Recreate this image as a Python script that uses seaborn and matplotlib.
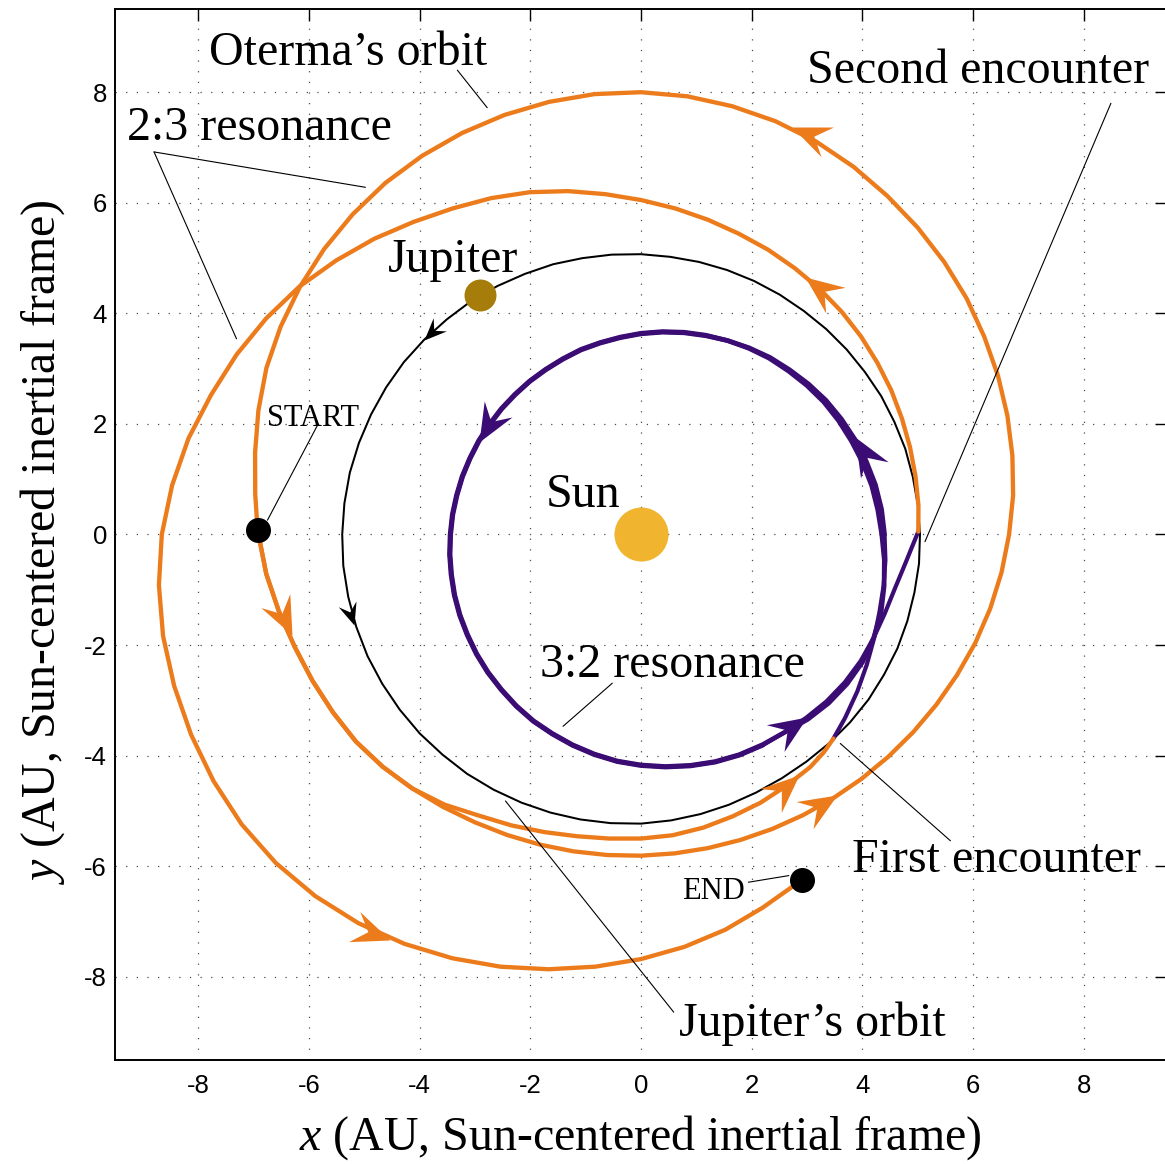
import numpy as np
import matplotlib
matplotlib.use("Agg")
import matplotlib.pyplot as plt
from matplotlib.path import Path
from matplotlib.markers import MarkerStyle
import seaborn as sns

# ---------------- data ----------------
# Curves are stored in Sun-centred polar form: angle (deg) and distance (AU)

# Oterma, pass 1: START -> lower bottom arc -> big outer loop -> back to START
orange1_phi = [179.3, 186, 192, 198, 204, 210, 216, 222, 228, 234, 240, 246, 252, 258, 264, 270,
               276, 282, 288, 294, 300, 306, 312, 318, 324, 330, 336, 342, 348, 354, 360, 366,
               372, 378, 384, 390, 396, 402, 408, 414, 420, 426, 432, 438, 444, 450, 456, 462,
               468, 474, 480, 486, 492, 498, 504, 510, 516, 522, 528, 534, 539.3]
orange1_r = [6.93, 6.81, 6.69, 6.58, 6.50, 6.43, 6.37, 6.28, 6.18, 6.09, 6.01, 5.95, 5.90, 5.86,
             5.83, 5.81, 5.80, 5.80, 5.81, 5.83, 5.86, 5.90, 5.95, 6.01, 6.08, 6.16, 6.25, 6.35,
             6.45, 6.55, 6.65, 6.76, 6.86, 6.96, 7.06, 7.16, 7.27, 7.37, 7.47, 7.57, 7.68, 7.78,
             7.86, 7.92, 7.97, 8.00, 8.01, 8.00, 7.98, 7.95, 7.91, 7.86, 7.79, 7.71, 7.62, 7.52,
             7.41, 7.27, 7.13, 7.01, 6.93]
# Oterma, pass 2: START -> upper bottom arc -> first encounter
orange2_phi = [179.3, 186, 192, 198, 204, 210, 216, 222, 228, 234, 240, 246, 252, 258, 264, 270,
               276, 282, 288, 294, 300, 306, 310, 313.3]
orange2_r = [6.93, 6.81, 6.69, 6.58, 6.50, 6.43, 6.37, 6.28, 6.18, 6.04, 5.87, 5.76, 5.66, 5.58,
             5.53, 5.50, 5.47, 5.42, 5.36, 5.31, 5.25, 5.20, 5.14, 5.07]
# Oterma, pass 3: second encounter -> END
orange3_phi = [0.6, 6, 12, 18, 24, 30, 36, 42, 48, 54, 60, 66, 72, 78, 84, 90, 96, 102, 108, 114,
               120, 126, 132, 138, 144, 150, 156, 162, 168, 174, 180, 186, 192, 198, 204, 210,
               216, 222, 228, 234, 240, 246, 252, 258, 264, 270, 276, 282, 288, 295]
orange3_r = [5.01, 5.04, 5.07, 5.11, 5.16, 5.22, 5.28, 5.35, 5.42, 5.49, 5.56, 5.64, 5.72, 5.82,
             5.93, 6.05, 6.19, 6.35, 6.51, 6.66, 6.81, 6.99, 7.20, 7.41, 7.63, 7.82, 8.00, 8.17,
             8.36, 8.52, 8.66, 8.76, 8.83, 8.87, 8.90, 8.92, 8.92, 8.88, 8.80, 8.69, 8.55, 8.39,
             8.22, 8.04, 7.86, 7.68, 7.50, 7.31, 7.10, 6.89]

# 3:2 resonance (purple)
purple_leg1_phi = [313.3, 318, 324, 330, 336, 342, 348, 354, 360]
purple_leg1_r = [5.07, 4.96, 4.83, 4.71, 4.61, 4.53, 4.48, 4.44, 4.40]
purple_loopA_phi = [0, 6, 12, 18, 24, 30, 36, 42, 48, 54, 60, 66, 72, 78, 84, 90, 96, 102, 108,
                    114, 120, 126, 132, 138, 144, 150, 156, 162, 168, 174, 180, 186, 192, 198,
                    204, 210, 216, 222, 228, 234, 240, 246, 252, 258, 264, 270, 276, 282, 288,
                    294, 300, 306, 312, 318, 324, 330, 336, 342, 348, 354, 360]
purple_loopA_r = [4.40, 4.37, 4.33, 4.28, 4.23, 4.18, 4.13, 4.07, 4.01, 3.96, 3.90, 3.84, 3.78,
                  3.73, 3.68, 3.63, 3.58, 3.54, 3.51, 3.47, 3.44, 3.42, 3.40, 3.39, 3.38, 3.38,
                  3.38, 3.39, 3.40, 3.42, 3.44, 3.47, 3.50, 3.54, 3.58, 3.62, 3.67, 3.72, 3.77,
                  3.83, 3.89, 3.94, 4.00, 4.06, 4.12, 4.17, 4.22, 4.27, 4.32, 4.36, 4.39, 4.42,
                  4.50, 4.56, 4.60, 4.62, 4.60, 4.56, 4.49, 4.42, 4.35]
purple_loopB_phi = [0, 6, 12, 18, 24, 30, 36, 42, 48, 54, 60, 66, 72, 78, 84, 90, 96, 102, 108,
                    114, 120, 126, 132, 138, 144, 150, 156, 162, 168, 174, 180, 186, 192, 198,
                    204, 210, 216, 222, 228, 234, 240, 246, 252, 258, 264, 270, 276, 282, 288,
                    294, 300]
purple_loopB_r = [4.35, 4.30, 4.26, 4.21, 4.16, 4.12, 4.08, 4.03, 3.98, 3.94, 3.89, 3.84, 3.79,
                  3.74, 3.69, 3.64, 3.59, 3.55, 3.52, 3.48, 3.45, 3.43, 3.41, 3.40, 3.39, 3.39,
                  3.39, 3.40, 3.41, 3.43, 3.45, 3.48, 3.51, 3.55, 3.59, 3.63, 3.68, 3.73, 3.78,
                  3.84, 3.90, 3.95, 4.01, 4.07, 4.13, 4.18, 4.23, 4.28, 4.33, 4.37, 4.40]
purple_leg2_phi = [300, 306, 312, 318, 324, 330, 336, 342, 348, 354, 357, 360.6]
purple_leg2_r = [4.40, 4.42, 4.46, 4.51, 4.55, 4.58, 4.60, 4.63, 4.69, 4.81, 4.89, 5.01]

# Jupiter's orbit
jup_phi = [0, 6, 12, 18, 24, 30, 36, 42, 48, 54, 60, 66, 72, 78, 84, 90, 96, 102, 108, 114, 120,
           126, 132, 138, 144, 150, 156, 162, 168, 174, 180, 186, 192, 198, 204, 210, 216, 222,
           228, 234, 240, 246, 252, 258, 264, 270, 276, 282, 288, 294, 300, 306, 312, 318, 324,
           330, 336, 342, 348, 354, 360]
jup_r = [5.04, 5.03, 5.02, 5.02, 5.01, 5.01, 5.00, 5.00, 5.00, 5.00, 5.01, 5.02, 5.03, 5.04, 5.05,
         5.07, 5.09, 5.11, 5.14, 5.16, 5.19, 5.22, 5.24, 5.27, 5.30, 5.32, 5.34, 5.36, 5.38, 5.39,
         5.40, 5.41, 5.41, 5.41, 5.41, 5.40, 5.39, 5.38, 5.36, 5.35, 5.33, 5.31, 5.29, 5.27, 5.25,
         5.23, 5.20, 5.17, 5.14, 5.11, 5.09, 5.08, 5.08, 5.08, 5.08, 5.07, 5.07, 5.06, 5.05, 5.05,
         5.04]

# arrowhead tips (x, y in AU)
orange_arrow_x = [-6.30, 3.54, 2.72, 2.85, 2.97, -4.53]
orange_arrow_y = [-1.82, -4.71, 7.37, -4.35, 4.66, -7.33]
purple_arrow_x = [3.87, -2.93, 3.00]
purple_arrow_y = [1.77, 1.67, -3.30]
black_arrow_x = [-3.93, -5.19]
black_arrow_y = [3.51, -1.64]

# bodies
sun_xy = (0.0, 0.0)
jupiter_xy = (-2.91, 4.33)
start_xy = (-6.93, 0.08)
end_xy = (2.91, -6.25)

# labels
label_text = ["Oterma\u2019s orbit", "2:3 resonance", "Jupiter", "Second encounter", "START",
              "Sun", "3:2 resonance", "First encounter", "END", "Jupiter\u2019s orbit"]
label_x = [-7.81, -9.28, -4.58, 3.00, -6.75, -1.73, -1.82, 3.81, 0.74, 0.68]
label_y = [8.50, 7.13, 4.75, 8.16, 1.96, 0.50, -2.58, -6.11, -6.59, -9.07]
label_size = [34.5, 34.5, 34.5, 34.5, 22, 34.5, 34.5, 34.5, 22, 34.5]

# leader lines
lead_x0 = [-3.32, -8.80, -8.80, 8.49, -5.85, -0.52, 5.59, 1.94, 0.59]
lead_y0 = [8.40, 6.92, 6.92, 7.80, 1.97, -2.69, -5.54, -6.29, -8.64]
lead_x1 = [-2.78, -4.98, -7.31, 5.13, -6.75, -1.41, 3.60, 2.67, -2.45]
lead_y1 = [7.72, 6.28, 3.54, -0.13, 0.26, -3.47, -3.78, -6.17, -4.82]

tick_vals = [-8, -6, -4, -2, 0, 2, 4, 6, 8]

# ---------------- styling ----------------
ORANGE = "#EC7B1C"
PURPLE = "#3B0C74"
SUN = "#F0B42E"
JUP = "#A67C0B"

sns.set_style("white")
plt.rcParams['font.family'] = ['Liberation Sans', 'DejaVu Sans']
plt.rcParams['axes.unicode_minus'] = False
plt.rcParams['mathtext.fontset'] = 'custom'
plt.rcParams['mathtext.rm'] = 'Liberation Serif'
plt.rcParams['mathtext.it'] = 'Liberation Serif:italic'
for k in ['text.color', 'axes.labelcolor', 'xtick.color', 'ytick.color', 'axes.edgecolor']:
    plt.rcParams[k] = 'black'

fig = plt.figure(figsize=(11.65, 11.64), dpi=100)
ax = fig.add_axes([0.09897, 0.08961, 0.90258, 0.90241])
ax.set_xlim(-9.5, 9.5)
ax.set_ylim(-9.5, 9.5)


def to_xy(phi, r):
    a = np.radians(np.asarray(phi, float))
    r = np.asarray(r, float)
    return r * np.cos(a), r * np.sin(a)


def draw(phi, r, color, lw, z):
    x, y = to_xy(phi, r)
    sns.lineplot(x=x, y=y, sort=False, estimator=None, color=color, linewidth=lw,
                 ax=ax, zorder=z, solid_capstyle='round', solid_joinstyle='round')
    return x, y


jup_c = draw(jup_phi, jup_r, "black", 1.45, 2)
p_leg1 = draw(purple_leg1_phi, purple_leg1_r, PURPLE, 3.0, 3)
p_loopA = draw(purple_loopA_phi, purple_loopA_r, PURPLE, 3.4, 3)
p_loopB = draw(purple_loopB_phi, purple_loopB_r, PURPLE, 3.4, 3)
p_leg2 = draw(purple_leg2_phi, purple_leg2_r, PURPLE, 3.0, 3)
o1 = draw(orange1_phi, orange1_r, ORANGE, 3.1, 4)
o2 = draw(orange2_phi, orange2_r, ORANGE, 3.1, 4)
o3 = draw(orange3_phi, orange3_r, ORANGE, 3.1, 4)

arrow_path = Path([(0, 0), (-1.0, 0.42), (-0.62, 0), (-1.0, -0.42), (0, 0)],
                  [Path.MOVETO, Path.LINETO, Path.LINETO, Path.LINETO, Path.CLOSEPOLY])


def add_arrows(curves, axs, ays, color, ms, z):
    for px, py in zip(axs, ays):
        best = None
        for cx, cy in curves:
            d = np.hypot(cx - px, cy - py)
            i = int(np.argmin(d))
            if best is None or d[i] < best[0]:
                best = (d[i], cx, cy, i)
        _, cx, cy, i = best
        i0 = max(i - 1, 0)
        i1 = min(i + 1, len(cx) - 1)
        p0 = ax.transData.transform((cx[i0], cy[i0]))
        p1 = ax.transData.transform((cx[i1], cy[i1]))
        ang = np.degrees(np.arctan2(p1[1] - p0[1], p1[0] - p0[0]))
        m = MarkerStyle(arrow_path).rotated(deg=ang)
        ax.plot([px], [py], linestyle='none', marker=m, markersize=ms, color=color,
                markeredgewidth=0, zorder=z)


add_arrows([o1, o2, o3], orange_arrow_x, orange_arrow_y, ORANGE, 55, 4.5)
add_arrows([p_loopA], purple_arrow_x, purple_arrow_y, PURPLE, 55, 3.5)
add_arrows([jup_c], black_arrow_x, black_arrow_y, "black", 32, 2.5)

for x0, y0, x1, y1 in zip(lead_x0, lead_y0, lead_x1, lead_y1):
    ax.plot([x0, x1], [y0, y1], color="black", linewidth=0.8, zorder=6)

sns.scatterplot(x=[sun_xy[0]], y=[sun_xy[1]], s=1511, color=SUN, linewidth=0, ax=ax, zorder=7)
sns.scatterplot(x=[jupiter_xy[0]], y=[jupiter_xy[1]], s=530, color=JUP, linewidth=0, ax=ax, zorder=7)
sns.scatterplot(x=[start_xy[0], end_xy[0]], y=[start_xy[1], end_xy[1]], s=324, color="black",
                linewidth=0, ax=ax, zorder=7)

for t, x, y, s in zip(label_text, label_x, label_y, label_size):
    ax.text(x, y, t, fontsize=s, family='Liberation Serif', ha='left', va='baseline',
            color='black', zorder=8)

ax.set_xticks(tick_vals)
ax.set_yticks(tick_vals)
ax.set_xticklabels([str(v) for v in tick_vals])
ax.set_yticklabels([str(v) for v in tick_vals])
ax.grid(True, which='major', color='0.3', linestyle=(0, (1, 7.5)), linewidth=0.9)
ax.set_axisbelow(True)
ax.tick_params(direction='in', length=8.5, width=1.0, top=True, right=True,
               labelsize=18.5, colors='black')
ax.tick_params(axis='x', pad=10)
ax.tick_params(axis='y', pad=6)
for sp in ax.spines.values():
    sp.set_visible(True)
    sp.set_color('black')
    sp.set_linewidth(1.4)
ax.set_xlabel("")
ax.set_ylabel("")

fig.text(640 / 1165, 1 - 1138 / 1164, r"$x$ (AU, Sun-centered inertial frame)",
         ha='center', va='center', fontsize=34.5, family='Liberation Serif', color='black')
fig.text(43 / 1165, 1 - 542 / 1164, r"$y$ (AU, Sun-centered inertial frame)",
         ha='center', va='center', rotation=90, fontsize=34.5, family='Liberation Serif',
         color='black')

fig.savefig("out.png", dpi=100)
